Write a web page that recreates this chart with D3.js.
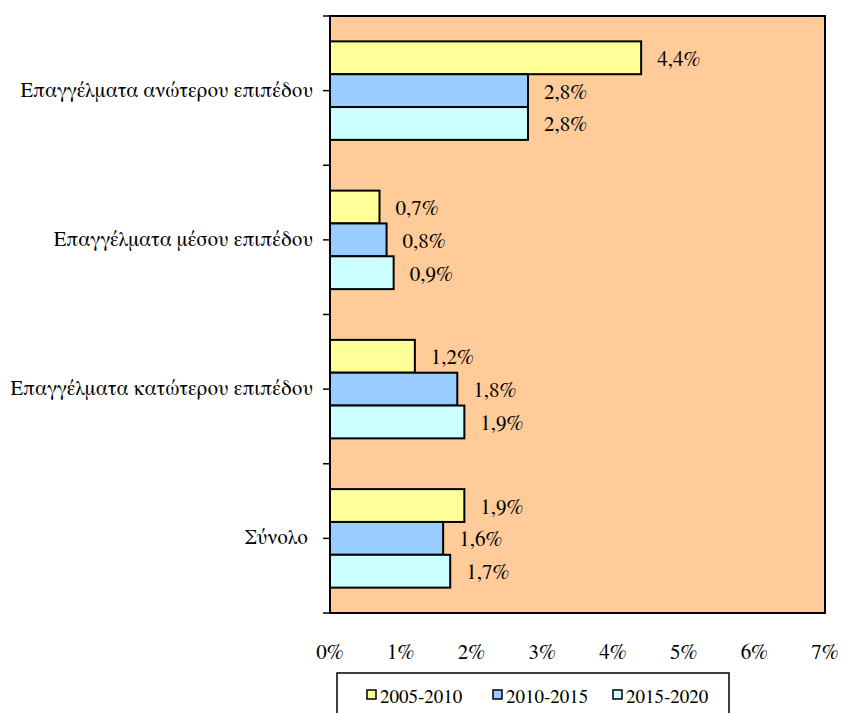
<!DOCTYPE html>
<html><head><meta charset="utf-8">
<script src="https://cdn.jsdelivr.net/npm/d3@7"></script>
<style>body{margin:0;background:#fff}svg{display:block}text{font-family:"FreeSerif","Liberation Serif",serif;fill:#000}</style>
</head><body>
<script>
const categories = ["Επαγγέλματα ανώτερου επιπέδου","Επαγγέλματα μέσου επιπέδου","Επαγγέλματα κατώτερου επιπέδου","Σύνολο"];
const seriesNames = ["2005-2010","2010-2015","2015-2020"];
const s2005 = [4.4, 0.7, 1.2, 1.9];
const s2010 = [2.8, 0.8, 1.8, 1.6];
const s2015 = [2.8, 0.9, 1.9, 1.7];
const xTicks = [0,1,2,3,4,5,6,7];
const colors = ["#FFFF99","#99CCFF","#CCFFFF"];
const series = [s2005, s2010, s2015];

const W=868,H=713;
const L=330,R=825,T=16,B=613;
const svg=d3.select("body").append("svg").attr("width",W).attr("height",H);
const x=d3.scaleLinear().domain([0,7]).range([L,R]);
const y=d3.scaleBand().domain(categories).range([T,B]).paddingInner(0.34).paddingOuter(0.17);
const y1=d3.scaleBand().domain(seriesNames).range([0,y.bandwidth()]);

svg.append("rect").attr("x",L).attr("y",T).attr("width",R-L).attr("height",B-T).attr("fill","#FFCC99").attr("stroke","#000").attr("stroke-width",2);

const fmt=v=>v.toFixed(1).replace(".",",")+"%";
categories.forEach((c,i)=>{
  series.forEach((s,j)=>{
    const yy=y(c)+y1(seriesNames[j]);
    svg.append("rect").attr("x",x(0)).attr("y",yy).attr("width",x(s[i])-x(0)).attr("height",y1.bandwidth())
      .attr("fill",colors[j]).attr("stroke","#000").attr("stroke-width",2);
    svg.append("text").attr("x",x(s[i])+16).attr("y",yy+y1.bandwidth()/2+8).attr("font-size",21).text(fmt(s[i]));
  });
});

const step=(B-T)/categories.length;
for(let k=0;k<=categories.length*2;k++){
  const yy=T+k*step/2;
  svg.append("line").attr("x1",L-7).attr("x2",L).attr("y1",yy).attr("y2",yy).attr("stroke","#000").attr("stroke-width",1.5);
}
svg.append("line").attr("x1",L).attr("x2",L).attr("y1",T).attr("y2",B).attr("stroke","#000").attr("stroke-width",2);

categories.forEach(c=>{
  svg.append("text").attr("x",c==="Σύνολο"?308:313).attr("y",y(c)+y.bandwidth()/2+6).attr("text-anchor","end").attr("font-size",20.5).text(c);
});

xTicks.forEach(t=>{
  svg.append("text").attr("x",x(t)).attr("y",659).attr("text-anchor","middle").attr("font-size",21).text(t+"%");
});

const lg=svg.append("g");
lg.append("rect").attr("x",337).attr("y",673).attr("width",392).attr("height",60).attr("fill","#fff").attr("stroke","#000").attr("stroke-width",1.5);
const lx=[367,493,613];
seriesNames.forEach((n,j)=>{
  lg.append("rect").attr("x",lx[j]).attr("y",690).attr("width",9).attr("height",9).attr("fill",colors[j]).attr("stroke","#000").attr("stroke-width",1.5);
  lg.append("text").attr("x",lx[j]+13).attr("y",703).attr("font-size",19).text(n);
});
</script>
</body></html>
